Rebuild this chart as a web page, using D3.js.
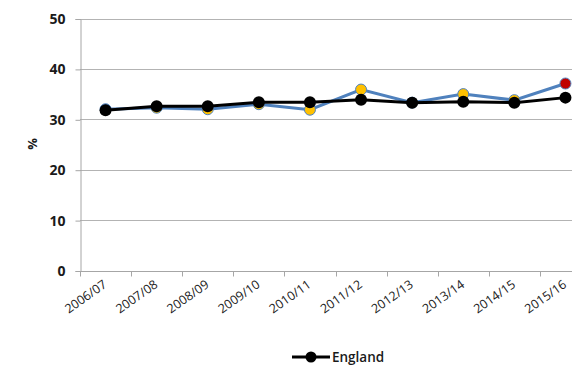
<!DOCTYPE html>
<html>
<head>
<meta charset="utf-8">
<script src="https://cdn.jsdelivr.net/npm/d3@7"></script>
<style>
  html, body { margin: 0; padding: 0; background: #fff; }
  svg { display: block; }
</style>
</head>
<body>
<svg id="chart" width="572" height="366"></svg>
<script>
// Financial years along the x axis
const years = ["2006/07", "2007/08", "2008/09", "2009/10", "2010/11",
               "2011/12", "2012/13", "2013/14", "2014/15", "2015/16"];
// Local area rate (%) and the marker colour for each year
const localValues = [32.0, 32.3, 32.0, 33.0, 31.9, 35.9, 33.3, 35.0, 33.8, 37.1];
const localMarker = ["blue", "amber", "amber", "amber", "amber", "amber", "amber", "amber", "amber", "red"];
// England rate (%)
const englandValues = [31.8, 32.6, 32.6, 33.4, 33.4, 33.9, 33.3, 33.5, 33.3, 34.3];
const yTicks = [0, 10, 20, 30, 40, 50];
const legendLabel = "England";

const markerFill = { blue: "#4f81bd", amber: "#ffc000", red: "#c00000" };

const svg = d3.select("#chart");
const plotLeft = 80, plotRight = 591, plotTop = 18.5, plotBottom = 270.5;

const x = d3.scaleBand().domain(years).range([plotLeft, plotRight]);
const y = d3.scaleLinear().domain([0, 50]).range([plotBottom, plotTop]);

// Horizontal gridlines
svg.append("g")
  .selectAll("line")
  .data(yTicks)
  .join("line")
  .attr("x1", plotLeft).attr("x2", 572)
  .attr("y1", d => Math.round(y(d)) + 0.5).attr("y2", d => Math.round(y(d)) + 0.5)
  .attr("stroke", "#b3b3b3").attr("stroke-width", 1);

// Y axis
const yAxis = svg.append("g")
  .attr("transform", `translate(${plotLeft + 0.5},0.5)`)
  .call(d3.axisLeft(y).tickValues(yTicks).tickSize(5).tickPadding(10).tickFormat(d3.format("d")));
yAxis.select(".domain").attr("stroke", "#a6a6a6");
yAxis.selectAll(".tick line").attr("stroke", "#a6a6a6");
yAxis.selectAll(".tick text")
  .attr("fill", "#1a1a1a")
  .style("font-family", "'Open Sans', sans-serif")
  .style("font-size", "14px")
  .style("font-weight", "bold");

// X axis: ticks sit on band boundaries
const xAxis = svg.append("g")
  .attr("transform", `translate(0,${Math.round(plotBottom) + 0.5})`);
xAxis.append("line")
  .attr("x1", plotLeft).attr("x2", 572)
  .attr("stroke", "#a6a6a6");
xAxis.selectAll("line.tk")
  .data(years)
  .join("line")
  .attr("class", "tk")
  .attr("x1", d => Math.round(x(d)) + 0.5).attr("x2", d => Math.round(x(d)) + 0.5)
  .attr("y1", 0).attr("y2", 5)
  .attr("stroke", "#a6a6a6");
xAxis.selectAll("text")
  .data(years)
  .join("text")
  .attr("transform", d => `translate(${x(d) + x.bandwidth() / 2 + 2},${15}) rotate(-35)`)
  .attr("text-anchor", "end")
  .attr("fill", "#1a1a1a")
  .style("font-family", "'Open Sans', sans-serif")
  .style("font-size", "12.5px")
  .text(d => d);

// Y axis title
svg.append("text")
  .attr("transform", "translate(37,144) rotate(-90)")
  .attr("text-anchor", "middle")
  .attr("fill", "#1a1a1a")
  .style("font-family", "'Open Sans', sans-serif")
  .style("font-size", "13px")
  .style("font-weight", "bold")
  .text("%");

const cx = d => x(d) + x.bandwidth() / 2;

// Local area series
const localData = years.map((yr, i) => ({ yr, v: localValues[i], m: localMarker[i] }));
svg.append("path")
  .datum(localData)
  .attr("fill", "none")
  .attr("stroke", "#4f81bd")
  .attr("stroke-width", 3)
  .attr("d", d3.line().x(d => cx(d.yr)).y(d => y(d.v)));
svg.append("g")
  .selectAll("circle")
  .data(localData)
  .join("circle")
  .attr("cx", d => cx(d.yr)).attr("cy", d => y(d.v))
  .attr("r", 5.5)
  .attr("fill", d => markerFill[d.m])
  .attr("stroke", "#4f81bd").attr("stroke-width", 1);

// England series
const engData = years.map((yr, i) => ({ yr, v: englandValues[i] }));
svg.append("path")
  .datum(engData)
  .attr("fill", "none")
  .attr("stroke", "#000")
  .attr("stroke-width", 3)
  .attr("d", d3.line().x(d => cx(d.yr)).y(d => y(d.v)));
svg.append("g")
  .selectAll("circle")
  .data(engData)
  .join("circle")
  .attr("cx", d => cx(d.yr)).attr("cy", d => y(d.v))
  .attr("r", 6)
  .attr("fill", "#000");

// Legend
const lg = svg.append("g").attr("transform", "translate(292,357)");
lg.append("line").attr("x1", 0).attr("x2", 38).attr("y1", 0).attr("y2", 0)
  .attr("stroke", "#000").attr("stroke-width", 3);
lg.append("circle").attr("cx", 19).attr("cy", 0).attr("r", 5.5).attr("fill", "#000");
lg.append("text")
  .attr("x", 40).attr("y", 0).attr("dy", "0.36em")
  .attr("fill", "#1a1a1a")
  .style("font-family", "'Open Sans', sans-serif")
  .style("font-size", "13.5px")
  .style("font-weight", "600")
  .text(legendLabel);
</script>
</body>
</html>
